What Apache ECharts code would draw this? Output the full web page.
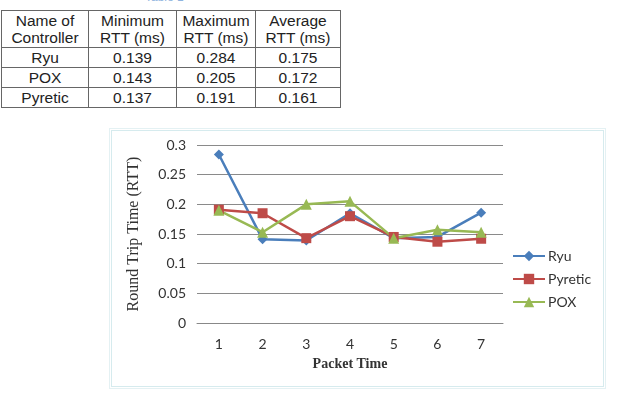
<!DOCTYPE html>
<html><head><meta charset="utf-8">
<script src="https://cdn.jsdelivr.net/npm/echarts@6/dist/echarts.min.js"></script>
<style>
html,body{margin:0;padding:0;background:#fff;width:620px;height:407px;overflow:hidden;position:relative;font-family:"Liberation Sans",Arial,sans-serif;}
#caption{position:absolute;left:145px;top:-10px;font-size:12px;color:#8fb4de;}
#tbl{position:absolute;left:1px;top:10px;border-collapse:collapse;font-size:15.5px;color:#222;}
#tbl td,#tbl th{border:1px solid #666;text-align:center;padding:0;font-weight:normal;}
#tbl th{height:36px;line-height:17px;}
#tbl td{height:19px;line-height:19px;}
#frame{position:absolute;left:111px;top:130px;width:491px;height:255px;border:1px solid #d6ebee;outline:1px solid #e4f1f3;outline-offset:1px;}
#chart{position:absolute;left:0;top:0;width:620px;height:407px;}
</style></head>
<body>
<div id="caption">Table 1</div>
<table id="tbl"></table>
<div id="frame"></div>
<div id="chart"></div>
<script>
// table data
const tableHeaders = ["Name of<br>Controller", "Minimum<br>RTT (ms)", "Maximum<br>RTT (ms)", "Average<br>RTT (ms)"];
const tableControllers = ["Ryu", "POX", "Pyretic"];
const tableMin = ["0.139", "0.143", "0.137"];
const tableMax = ["0.284", "0.205", "0.191"];
const tableAvg = ["0.175", "0.172", "0.161"];
const colWidths = [86, 87, 78, 84];

// chart data
const packetTimes = ["1", "2", "3", "4", "5", "6", "7"];
const ryu = [0.284, 0.141, 0.139, 0.185, 0.143, 0.145, 0.186];
const pyretic = [0.191, 0.185, 0.143, 0.180, 0.145, 0.137, 0.142];
const pox = [0.190, 0.153, 0.200, 0.205, 0.143, 0.157, 0.153];
const yTicks = [0, 0.05, 0.1, 0.15, 0.2, 0.25, 0.3];

// build table
const tbl = document.getElementById('tbl');
let html = '<tr>' + tableHeaders.map((h,i)=>'<th style="width:'+colWidths[i]+'px">'+h+'</th>').join('') + '</tr>';
tableControllers.forEach((c,i)=>{
  html += '<tr><td>'+c+'</td><td>'+tableMin[i]+'</td><td>'+tableMax[i]+'</td><td>'+tableAvg[i]+'</td></tr>';
});
tbl.innerHTML = html;

const chart = echarts.init(document.getElementById('chart'), null, {renderer:'canvas'});
const sansFont = 'Lato, "Liberation Sans", sans-serif';
const serifFont = '"Liberation Serif", "DejaVu Serif", serif';
chart.setOption({
  animation:false,
  backgroundColor:'transparent',
  grid:{left:197, right:117, top:145, bottom:84, containLabel:false},
  xAxis:{
    type:'category', data:packetTimes, boundaryGap:true,
    name:'Packet Time', nameLocation:'middle', nameGap:34,
    nameTextStyle:{fontFamily:serifFont, fontWeight:'bold', fontSize:14, color:'#333'},
    axisLine:{lineStyle:{color:'#888', width:1}},
    axisTick:{show:false},
    axisLabel:{fontFamily:sansFont, fontSize:14, color:'#333', margin:14}
  },
  yAxis:{
    type:'value', min:0, max:0.3, interval:0.05,
    name:'Round Trip Time (RTT)', nameLocation:'middle', nameGap:55, nameRotate:90,
    nameTextStyle:{fontFamily:serifFont, fontSize:16, color:'#333'},
    axisLine:{show:false}, axisTick:{show:false},
    axisLabel:{fontFamily:sansFont, fontSize:14, color:'#333', margin:11,
      formatter:v=>String(+v.toFixed(2))},
    splitLine:{lineStyle:{color:'#8a8a8a', width:1}}
  },
  legend:{
    orient:'vertical', left:507, top:244, itemGap:9, itemWidth:32, itemHeight:13,
    textStyle:{fontFamily:sansFont, fontSize:14, color:'#333', padding:[0,0,0,-2]},
    data:['Ryu','Pyretic','POX']
  },
  series:[
    {name:'Ryu', type:'line', data:ryu, symbol:'diamond', symbolSize:10,
     itemStyle:{color:'#4a7ebb'}, lineStyle:{color:'#4a7ebb', width:2.5}},
    {name:'Pyretic', type:'line', data:pyretic, symbol:'rect', symbolSize:10,
     itemStyle:{color:'#be4b48'}, lineStyle:{color:'#be4b48', width:2.5}},
    {name:'POX', type:'line', data:pox, symbol:'triangle', symbolSize:11,
     itemStyle:{color:'#98b954'}, lineStyle:{color:'#98b954', width:2.5}}
  ]
});
</script>
</body></html>
